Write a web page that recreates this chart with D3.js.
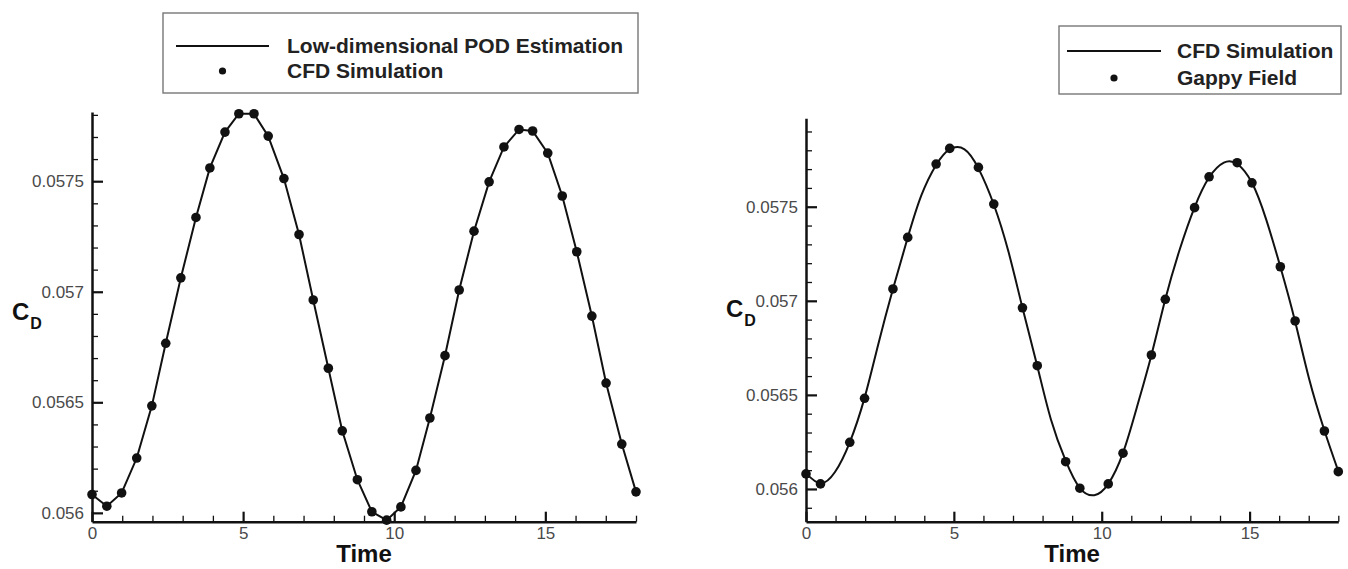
<!DOCTYPE html>
<html>
<head>
<meta charset="utf-8">
<script src="https://cdn.jsdelivr.net/npm/d3@7"></script>
<style>
  html, body { margin: 0; padding: 0; background: #fff; }
  svg { display: block; font-family: "Liberation Sans", Arial, sans-serif; }
</style>
</head>
<body>
<svg id="chart" width="1348" height="569"></svg>
<script>
// ---------- data ----------
// CFD sampling times (left panel)
const cfdTime = [0.00, 0.49, 0.98, 1.48, 1.98, 2.44, 2.94, 3.44, 3.90, 4.40,
                 4.86, 5.36, 5.83, 6.35, 6.85, 7.32, 7.82, 8.28, 8.78, 9.26,
                 9.75, 10.22, 10.72, 11.18, 11.68, 12.15, 12.64, 13.14, 13.63, 14.13,
                 14.58, 15.08, 15.56, 16.04, 16.54, 17.01, 17.53, 18.00];
// CFD simulation drag coefficient (dots, left; line, right)
const cfdDrag = [0.056083, 0.056030, 0.056090, 0.056248, 0.056484, 0.056767, 0.057063, 0.057336, 0.057560, 0.057722,
                 0.057805, 0.057805, 0.057704, 0.057512, 0.057259, 0.056963, 0.056654, 0.056371, 0.056150, 0.056005,
                 0.055967, 0.056027, 0.056192, 0.056429, 0.056711, 0.057008, 0.057274, 0.057497, 0.057655, 0.057734,
                 0.057727, 0.057627, 0.057433, 0.057181, 0.056890, 0.056587, 0.056311, 0.056095];
// Low-dimensional POD estimation (line, left) - coincides with CFD samples
const podDrag = [0.056083, 0.056030, 0.056090, 0.056248, 0.056484, 0.056767, 0.057063, 0.057336, 0.057560, 0.057722,
                 0.057805, 0.057805, 0.057704, 0.057512, 0.057259, 0.056963, 0.056654, 0.056371, 0.056150, 0.056005,
                 0.055967, 0.056027, 0.056192, 0.056429, 0.056711, 0.057008, 0.057274, 0.057497, 0.057655, 0.057734,
                 0.057727, 0.057627, 0.057433, 0.057181, 0.056890, 0.056587, 0.056311, 0.056095];
// Gappy field reconstruction (dots, right)
const gappyTime = [0.00, 0.49, 1.48, 1.98, 2.94, 3.44, 4.40, 4.86, 5.83, 6.35,
                   7.32, 7.82, 8.78, 9.26, 10.22, 10.72, 11.68, 12.15, 13.14, 13.63,
                   14.58, 15.08, 16.04, 16.54, 17.53, 18.00];
const gappyDrag = [0.056080, 0.056027, 0.056248, 0.056482, 0.057063, 0.057337, 0.057727, 0.057810, 0.057709, 0.057514,
                   0.056963, 0.056655, 0.056145, 0.056004, 0.056027, 0.056190, 0.056712, 0.057008, 0.057495, 0.057659,
                   0.057734, 0.057627, 0.057181, 0.056893, 0.056308, 0.056092];

const xMajorTicks = [0, 5, 10, 15];
const xMinorTicks = [1, 2, 3, 4, 6, 7, 8, 9, 11, 12, 13, 14, 16, 17, 18];
const yMajorTicks = [0.056, 0.0565, 0.057, 0.0575];
const yTickLabels = ["0.056", "0.0565", "0.057", "0.0575"];
const yMinorTicks = [0.0558, 0.0559, 0.0561, 0.0562, 0.0563, 0.0564, 0.0566, 0.0567, 0.0568, 0.0569,
                     0.0571, 0.0572, 0.0573, 0.0574, 0.0576, 0.0577, 0.0578, 0.0579];

const leftLegend = ["Low-dimensional POD Estimation", "CFD Simulation"];
const rightLegend = ["CFD Simulation", "Gappy Field"];

// ---------- drawing ----------
const svg = d3.select("#chart");

function panel(cfg) {
  const x = d3.scaleLinear().domain([0, 18]).range(cfg.xRange);
  const y = d3.scaleLinear().domain(cfg.yDomain).range(cfg.yRange);
  const g = svg.append("g");

  const yMin = yMinorTicks.filter(v => v >= cfg.yDomain[0] && v <= cfg.yDomain[1]);

  // minor ticks
  g.append("g").attr("transform", `translate(${cfg.xRange[0]},0)`)
    .call(d3.axisLeft(y).tickValues(yMin).tickSize(-6).tickSizeOuter(0).tickFormat(""))
    .call(a => a.select(".domain").remove())
    .call(a => a.selectAll("line").attr("stroke", "#111").attr("stroke-width", 1.3));
  g.append("g").attr("transform", `translate(0,${cfg.yRange[0]})`)
    .call(d3.axisBottom(x).tickValues(xMinorTicks).tickSize(-6).tickSizeOuter(0).tickFormat(""))
    .call(a => a.select(".domain").remove())
    .call(a => a.selectAll("line").attr("stroke", "#111").attr("stroke-width", 1.3));

  // major y axis
  g.append("g").attr("transform", `translate(${cfg.xRange[0]},0)`)
    .call(d3.axisLeft(y).tickValues(yMajorTicks).tickSize(-11).tickSizeOuter(0).tickPadding(8)
      .tickFormat((d, i) => yTickLabels[i]))
    .call(a => a.select(".domain").attr("stroke", "#111").attr("stroke-width", 2.5))
    .call(a => a.selectAll("line").attr("stroke", "#111").attr("stroke-width", 2.2))
    .call(a => a.selectAll("text").attr("font-size", 17).attr("fill", "#4a4a4a")
      .attr("font-family", "Liberation Sans, Arial, sans-serif"));

  // major x axis
  g.append("g").attr("transform", `translate(0,${cfg.yRange[0]})`)
    .call(d3.axisBottom(x).tickValues(xMajorTicks).tickSize(-10).tickSizeOuter(0).tickPadding(5))
    .call(a => a.select(".domain").attr("stroke", "#111").attr("stroke-width", 2.5))
    .call(a => a.selectAll("line").attr("stroke", "#111").attr("stroke-width", 2.2))
    .call(a => a.selectAll("text").attr("font-size", 17).attr("fill", "#4a4a4a")
      .attr("font-family", "Liberation Sans, Arial, sans-serif"));

  // line
  const line = d3.line().x(d => x(d[0])).y(d => y(d[1])).curve(cfg.curve);
  g.append("path").datum(d3.zip(cfg.lineX, cfg.lineY))
    .attr("d", line).attr("fill", "none").attr("stroke", "#111").attr("stroke-width", 2);

  // dots
  g.append("g").selectAll("circle").data(d3.zip(cfg.dotX, cfg.dotY)).join("circle")
    .attr("cx", d => x(d[0])).attr("cy", d => y(d[1])).attr("r", 4.8).attr("fill", "#111");

  // axis titles
  g.append("text").attr("x", x(9)).attr("y", 562).attr("text-anchor", "middle")
    .attr("font-size", 24).attr("font-weight", "bold").attr("fill", "#111").text("Time");
  const cd = g.append("text").attr("x", cfg.cdX).attr("y", cfg.cdY)
    .attr("font-size", 24).attr("font-weight", "bold").attr("fill", "#111");
  cd.append("tspan").text("C");
  cd.append("tspan").attr("font-size", 16).attr("dy", 9).attr("dx", 1).text("D");

  // legend
  const L = cfg.legend;
  g.append("rect").attr("x", L.x).attr("y", L.y).attr("width", L.w).attr("height", L.h)
    .attr("fill", "#fff").attr("stroke", "#777").attr("stroke-width", 1.4);
  g.append("line").attr("x1", L.lineX1).attr("x2", L.lineX2).attr("y1", L.row1).attr("y2", L.row1)
    .attr("stroke", "#111").attr("stroke-width", 2);
  g.append("circle").attr("cx", (L.lineX1 + L.lineX2) / 2).attr("cy", L.row2).attr("r", 3.6).attr("fill", "#111");
  g.selectAll(".legtext").data(cfg.legendLabels).join("text")
    .attr("x", L.textX).attr("y", (d, i) => (i === 0 ? L.row1 : L.row2) + 7)
    .attr("font-size", 21).attr("font-weight", "bold").attr("fill", "#222").text(d => d);
}

panel({
  xRange: [92, 636], yDomain: [0.05596, 0.057813], yRange: [521.7, 112],
  lineX: cfdTime, lineY: podDrag, curve: d3.curveLinear,
  dotX: cfdTime, dotY: cfdDrag,
  cdX: 12, cdY: 320,
  legend: { x: 163, y: 13, w: 475, h: 80, lineX1: 176, lineX2: 269, row1: 46, row2: 71, textX: 287 },
  legendLabels: leftLegend
});

panel({
  xRange: [806, 1338.3], yDomain: [0.055826, 0.05797], yRange: [521.7, 118.3],
  lineX: cfdTime, lineY: cfdDrag, curve: d3.curveNatural,
  dotX: gappyTime, dotY: gappyDrag,
  cdX: 726, cdY: 317,
  legend: { x: 1059, y: 26, w: 282, h: 68, lineX1: 1067, lineX2: 1161, row1: 51, row2: 78, textX: 1177 },
  legendLabels: rightLegend
});
</script>
</body>
</html>
